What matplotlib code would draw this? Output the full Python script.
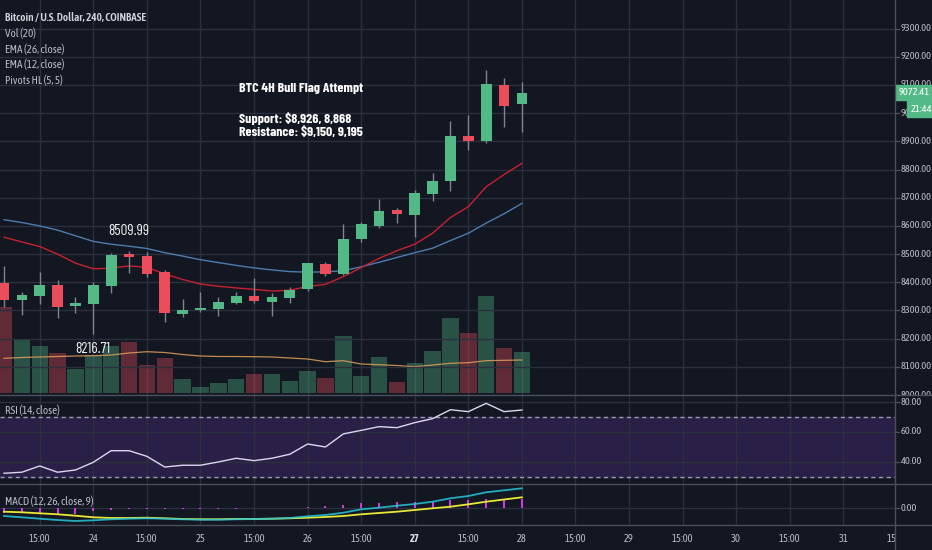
import logging
import numpy as np
import matplotlib
matplotlib.use('Agg')
import matplotlib.pyplot as plt
from matplotlib.patches import Rectangle
from matplotlib.lines import Line2D
logging.getLogger('matplotlib.font_manager').setLevel(logging.ERROR)

# ---------------- data ----------------
opens  = [8399, 8337, 8351, 8392, 8316, 8323, 8388, 8501, 8494, 8435,
          8287, 8301, 8304, 8328, 8352, 8330, 8344, 8375, 8465, 8430,
          8552, 8598, 8656, 8640, 8712, 8760, 8918, 8901, 9100, 9031]
highs  = [8458, 8367, 8438, 8408, 8349, 8402, 8505, 8509.99, 8508, 8444,
          8340, 8365, 8347, 8365, 8414, 8361, 8382, 8470, 8473, 8607,
          8615, 8694, 8662, 8727, 8787, 8972, 8993, 9153, 9123, 9109]
lows   = [8313, 8284, 8323, 8273, 8290, 8216.71, 8362, 8433, 8420, 8260,
          8276, 8296, 8280, 8323, 8328, 8280, 8326, 8368, 8422, 8426,
          8544, 8591, 8609, 8560, 8688, 8725, 8869, 8895, 8952, 8934]
closes = [8337, 8354, 8392, 8313, 8327, 8392, 8498, 8491, 8429, 8290,
          8302, 8308, 8329, 8352, 8334, 8347, 8373, 8467, 8429, 8554,
          8607, 8654, 8643, 8716, 8760, 8918, 8901, 9103, 9026, 9072.41]
volumes = [1726, 1060, 946, 806, 480, 760, 946, 1014, 560, 694,
           274, 114, 194, 274, 380, 380, 250, 440, 294, 1140,
           346, 714, 214, 594, 846, 1494, 1194, 1940, 894, 826]
vol_ma = [694, 710, 720, 730, 740, 746, 760, 800, 826, 810,
          770, 740, 730, 730, 726, 720, 700, 680, 626, 646,
          580, 566, 550, 526, 560, 594, 606, 646, 654, 660]
ema26 = [8622, 8612, 8600, 8585, 8565, 8545, 8535, 8528, 8520, 8505,
         8493, 8480, 8470, 8460, 8451, 8444, 8438, 8436, 8437, 8441,
         8455, 8471, 8488, 8505, 8521, 8548, 8574, 8610, 8643, 8680]
ema12 = [8560, 8543, 8527, 8500, 8468, 8448, 8450, 8458, 8453, 8430,
         8410, 8394, 8386, 8380, 8375, 8369, 8372, 8385, 8393, 8420,
         8452, 8485, 8512, 8535, 8574, 8630, 8668, 8739, 8782, 8822]
rsi = [32.2, 32.9, 37.1, 32.9, 34.4, 39.6, 47.4, 47.4, 43.6, 36.4,
       37.6, 37.6, 39.8, 42.3, 40.7, 42.3, 45.0, 51.9, 49.9, 58.7,
       61.1, 63.6, 62.9, 66.3, 69.0, 75.0, 73.7, 79.3, 73.7, 74.8]
macd = [-38.5, -45, -52, -58.5, -63.5, -60, -55, -52, -50, -52,
        -55, -57, -57, -55, -53.5, -52, -48.5, -40, -33.5, -22,
        -5, 3, 13, 21.5, 33, 50, 61.5, 80, 90, 100]
signal = [-17, -20, -25, -30, -37, -45, -48.5, -48.5, -47, -50,
          -53.5, -55, -55, -53.5, -53.5, -52, -50, -47, -43.5, -38.5,
          -30, -23.5, -17, -8.5, 0, 8, 20, 33, 44, 55]
hist = [-21, -25, -27, -28, -26, -15, -6, -3, -3, -2,
        -1.5, -2, -2, -1.5, 0, 0, 1.5, 7, 10, 16.5,
        25, 26.5, 30, 30, 33, 42, 41.5, 47, 46, 45]
time_labels = ['15:00', '24', '15:00', '25', '15:00', '26', '15:00', '27', '15:00',
               '28', '15:00', '29', '15:00', '30', '15:00', '31', '15:00']
price_ticks = [8000, 8100, 8200, 8300, 8400, 8500, 8600, 8700, 8800, 8900,
               9000, 9100, 9200, 9300]
rsi_ticks = [40, 60, 80]
macd_ticks = [0]
pivot_high_idx, pivot_high = 7, 8509.99
pivot_low_idx, pivot_low = 5, 8216.71
last_price = 9072.41
countdown = '21:44'

title_text = 'Bitcoin / U.S. Dollar, 240, COINBASE'
legend_texts = ['Vol (20)', 'EMA (26, close)', 'EMA (12, close)', 'Pivots HL (5, 5)']
note_title = 'BTC 4H Bull Flag Attempt'
note_lines = ['Support: $8,926, 8,868', 'Resistance: $9,150, 9,195']

# ---------------- style ----------------
BG = '#131722'
GRID = '#2c303d'
SEP = '#4a4e5a'
TXT = '#b8bbc4'
UP = '#53b987'
DN = '#eb4d5c'
WICK = '#80848e'
UI = ['Asap Condensed', 'Archivo Narrow', 'Liberation Sans', 'DejaVu Sans']
NOTE = ['Barlow Condensed', 'Barlow Semi Condensed', 'Asap Condensed', 'Liberation Sans', 'DejaVu Sans']
plt.rcParams['font.family'] = UI

W, H = 932, 550
fig = plt.figure(figsize=(W / 100, H / 100), dpi=100, facecolor=BG)

def rect(x0, y0, x1, y1):
    return [x0 / W, 1 - y1 / H, (x1 - x0) / W, (y1 - y0) / H]

XR = 895
Y_MAIN = 394.5
Y_RSI = 483.5
Y_MACD = 525
idx = np.arange(len(closes))
xlim = (-0.224, 49.89)
tick_pos = np.arange(len(time_labels)) * 3 + 2

def clean(ax):
    ax.set_facecolor(BG)
    for s in ax.spines.values():
        s.set_visible(False)
    ax.set_xticks([])
    ax.set_yticks([])

def vgrid(ax):
    for t in tick_pos:
        ax.axvline(t, color=GRID, lw=1, zorder=0)

# ---- main pane: volume (background) ----
ax_vol = fig.add_axes(rect(0, 0, XR, Y_MAIN))
clean(ax_vol)
ax_vol.set_xlim(*xlim)
ax_vol.set_ylim(-30, 7860)
vcols = [UP if c >= o else DN for o, c in zip(opens, closes)]
ax_vol.bar(idx, volumes, width=0.92, color=vcols, alpha=0.36, zorder=2)
ax_vol.plot(idx, vol_ma, color='#e0a05a', lw=0.9, alpha=0.85, zorder=3)
vgrid(ax_vol)

# ---- main pane: price ----
ax = fig.add_axes(rect(0, 0, XR, Y_MAIN))
clean(ax)
ax.patch.set_alpha(0)
ax.set_xlim(*xlim)
ylo, yhi = 8002.1, 9401.1
ax.set_ylim(ylo, yhi)
for p in price_ticks:
    ax.axhline(p, color=GRID, lw=1, zorder=0)
ax.plot(idx, ema26, color='#4b7cae', lw=1.0, zorder=3)
ax.plot(idx, ema12, color='#c8202f', lw=1.0, zorder=3)
ax.vlines(idx, lows, highs, color=WICK, lw=1, zorder=4)
bottoms = [min(o, c) for o, c in zip(opens, closes)]
heights = [max(abs(c - o), 3) for o, c in zip(opens, closes)]
ax.bar(idx, heights, bottom=bottoms, width=0.6, color=vcols, zorder=5)
ax.annotate(f'{pivot_high:.2f}', (pivot_high_idx, pivot_high), xytext=(0, 20),
            textcoords='offset pixels', ha='center', va='center',
            color='#f0f0f0', fontsize=11, family=NOTE)
ax.annotate(f'{pivot_low:.2f}', (pivot_low_idx, pivot_low), xytext=(0, -15),
            textcoords='offset pixels', ha='center', va='center',
            color='#f0f0f0', fontsize=11, family=NOTE)

# legend texts
fig.text(5 / W, 1 - 17 / H, title_text, color='#d1d4dc', fontsize=8.0,
         fontweight='semibold', va='center', ha='left')
for k, t in enumerate(legend_texts):
    fig.text(5 / W, 1 - (33 + 15.8 * k) / H, t, color=TXT, fontsize=8.0,
             va='center', ha='left')

# note
for yy, t in ((89, note_title), (119, note_lines[0]), (132.5, note_lines[1])):
    fig.text(239 / W, 1 - yy / H, t, color='white', fontsize=10,
             fontweight='bold', va='center', ha='left', family=NOTE)

# ---- price scale column ----
axp = fig.add_axes(rect(XR, 0, W, Y_MAIN))
clean(axp)
axp.set_xlim(0, 1)
axp.set_ylim(ylo, yhi)
for p in price_ticks:
    axp.plot([0, 0.1], [p, p], color=SEP, lw=1)
    axp.text(0.15, p, f'{p:.2f}', color=TXT, fontsize=7.5, va='center', ha='left',
             clip_on=True)
hb = 7.2 / 0.282
axp.add_patch(Rectangle((0, last_price - hb), 1, 2 * hb, color=UP, zorder=5))
axp.text(0.1, last_price, f'{last_price:.2f}', color='white', fontsize=7.5,
         va='center', ha='left', zorder=6)
cy = last_price - 16.4 / 0.282
hb2 = 8.2 / 0.282
axp.add_patch(Rectangle((0.33, cy - hb2), 0.67, 2 * hb2, color=UP, zorder=5))
axp.text(0.43, cy, countdown, color='white', fontsize=7.5, va='center', ha='left', zorder=6)

# ---- RSI ----
ar = fig.add_axes(rect(0, Y_MAIN, XR, Y_RSI))
clean(ar)
ar.set_xlim(*xlim)
rlo, rhi = 25.3, 85.25
ar.set_ylim(rlo, rhi)
ar.axhspan(30, 70, color='#2a1f47', zorder=0)
for v in rsi_ticks:
    ar.axhline(v, color=GRID, lw=1, zorder=1)
vgrid(ar)
for v in (30, 70):
    ar.axhline(v, color='#9a9cb0', lw=1, dashes=(3, 2.5), zorder=2)
ar.plot(idx, rsi, color='#ddd6ef', lw=1.0, zorder=3)
ar.text(5 / XR, 1 - (410.5 - Y_MAIN) / (Y_RSI - Y_MAIN), 'RSI (14, close)',
        transform=ar.transAxes, color=TXT, fontsize=8.0, va='center', ha='left')
arp = fig.add_axes(rect(XR, Y_MAIN, W, Y_RSI))
clean(arp)
arp.set_xlim(0, 1)
arp.set_ylim(rlo, rhi)
for v in rsi_ticks:
    arp.plot([0, 0.1], [v, v], color=SEP, lw=1)
    arp.text(0.15, v, f'{v:.2f}', color=TXT, fontsize=7.5, va='center', ha='left',
             clip_on=True)

# ---- MACD ----
am = fig.add_axes(rect(0, Y_RSI, XR, Y_MACD))
clean(am)
am.set_xlim(*xlim)
mlo, mhi = -83.5, 124
am.set_ylim(mlo, mhi)
for v in macd_ticks:
    am.axhline(v, color=GRID, lw=1, zorder=0)
vgrid(am)
am.vlines(idx, 0, hist, color='#e040f0', lw=1.3, zorder=2)
am.plot(idx, signal, color='#e8e835', lw=1.3, zorder=3)
am.plot(idx, macd, color='#26c6da', lw=1.3, alpha=0.85, zorder=4)
am.text(5 / XR, 1 - (501 - Y_RSI) / (Y_MACD - Y_RSI), 'MACD (12, 26, close, 9)',
        transform=am.transAxes, color=TXT, fontsize=8.0, va='center', ha='left')
amp = fig.add_axes(rect(XR, Y_RSI, W, Y_MACD))
clean(amp)
amp.set_xlim(0, 1)
amp.set_ylim(mlo, mhi)
for v in macd_ticks:
    amp.plot([0, 0.1], [v, v], color=SEP, lw=1)
    amp.text(0.15, v, f'{v:.2f}', color=TXT, fontsize=7.5, va='center', ha='left')

# ---- time axis ----
at = fig.add_axes(rect(0, Y_MACD, XR, H))
clean(at)
at.set_xlim(*xlim)
at.set_ylim(0, 1)
for t, lab in zip(tick_pos, time_labels):
    bold = lab == '27'
    at.text(t, 0.45, lab, color='#e0e3ea' if bold else TXT, fontsize=7.6,
            fontweight='bold' if bold else 'normal', ha='center', va='center',
            clip_on=True)
atp = fig.add_axes(rect(XR, Y_MACD, W, H))
clean(atp)

# ---- separators ----
for yy in (Y_MAIN, Y_RSI, Y_MACD):
    fig.add_artist(Line2D([0, 1], [1 - yy / H, 1 - yy / H], color=SEP, lw=1))
fig.add_artist(Line2D([XR / W, XR / W], [0, 1], color=SEP, lw=1))

fig.savefig('out.png', dpi=100, facecolor=BG)
